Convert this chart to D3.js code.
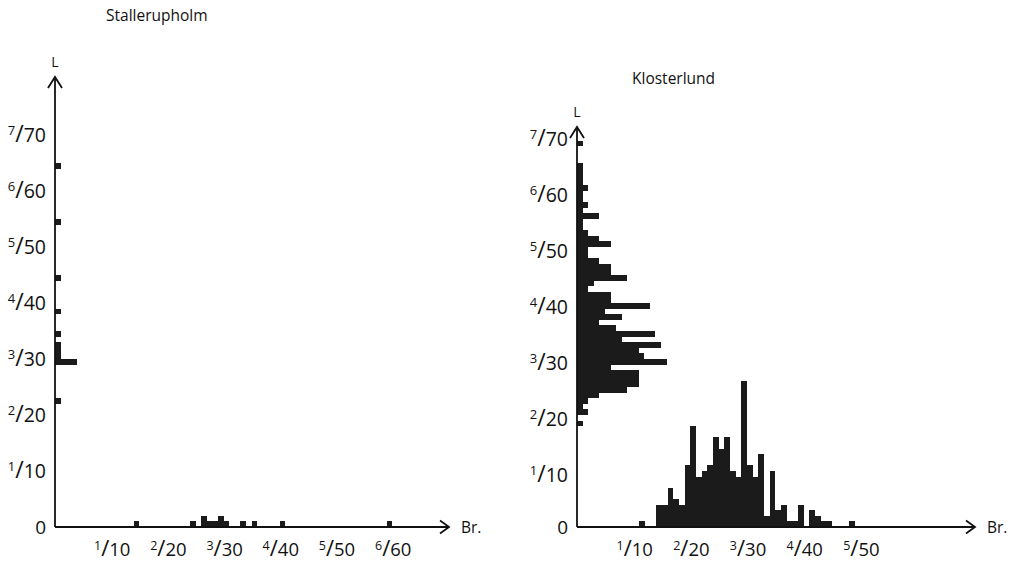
<!DOCTYPE html>
<html>
<head>
<meta charset="utf-8">
<script src="https://cdn.jsdelivr.net/npm/d3@7"></script>
<style>
  body { margin: 0; background: #fff; }
  text { font-family: "Open Sans", "Liberation Sans", sans-serif; fill: #111; }
</style>
</head>
<body>
<div class="chart"></div>
<script>
var svgWidth = 1015;
var svgHeight = 563;

// Stallerupholm: length (L, mm bins) and breadth (Br., mm bins) counts
var stallLenBins   = [22, 29, 30, 31, 32, 34, 38, 44, 54, 64];
var stallLenCounts = [ 1,  4,  1,  1,  1,  1,  1,  1,  1,  1];
var stallBrBins    = [14, 24, 26, 27, 28, 29, 30, 33, 35, 40, 59];
var stallBrCounts  = [ 1,  1,  2,  1,  1,  2,  1,  1,  1,  1,  1];

// Klosterlund
var klostLenBins   = [68, 64, 63, 62, 61, 60, 59, 58, 57, 56, 55, 54, 53, 52, 51, 50, 49, 48, 47, 46, 45, 44, 43, 42, 41, 40,
                      39, 38, 37, 36, 35, 34, 33, 32, 31, 30, 29, 28, 27, 26, 25, 24, 23, 22, 21, 20, 18];
var klostLenCounts = [ 1,  1,  1,  1,  1,  2,  1,  1,  2,  1,  4,  1,  1,  2,  4,  6,  2,  2,  4,  6,  6,  9,  3,  2,  6,  6,
                      13,  5,  8,  4,  7, 14,  8, 15, 11, 12, 16,  6, 11, 11, 11,  9,  4,  2,  1,  2,  1];
var klostBrBins    = [11, 14, 15, 16, 17, 18, 19, 20, 21, 22, 23, 24, 25, 26, 27, 28, 29, 30, 31, 32, 33, 34, 35, 36, 37, 38, 39, 41, 42, 43, 44, 48];
var klostBrCounts  = [ 1,  4,  4,  7,  5,  4, 11, 18,  9, 10, 11, 16, 14, 16, 10,  9, 26, 11,  9, 13,  2, 10,  3,  4,  1,  1,  4,  3,  2,  1,  1,  1];

// tick labels (cm / mm)
var lenTicksCm = [1, 2, 3, 4, 5, 6, 7];
var lenTicksMm = [10, 20, 30, 40, 50, 60, 70];
var stallBrTicksCm = [1, 2, 3, 4, 5, 6];
var stallBrTicksMm = [10, 20, 30, 40, 50, 60];
var klostBrTicksCm = [1, 2, 3, 4, 5];
var klostBrTicksMm = [10, 20, 30, 40, 50];

var svg = d3.select(".chart")
  .append("svg")
  .attr("width", svgWidth)
  .attr("height", svgHeight);

var baseY = 527;
var barColor = "#1b1b1b";
var countScale = d3.scaleLinear().domain([0, 1]).range([0, 5.6]);

function zip(a, b) {
  return a.map((d, i) => ({ bin: d, n: b[i] }));
}

// "7/70" style label: small raised cm digit, tall slash, mm number
function fracLabel(g, cm, mm, big) {
  var t = g.append("text");
  t.append("tspan").attr("font-size", big ? 13 : 12.5).attr("dy", big ? -7 : -6.5).text(cm);
  t.append("tspan").attr("font-size", big ? 23 : 22).attr("dy", big ? 7 : 6.5).text("/");
  t.append("tspan").attr("font-size", big ? 19.5 : 18.5).text(mm);
  return t;
}

function drawPanel(opt) {
  var g = svg.append("g");
  var x = opt.x, y = opt.y;
  var x0 = x(0);

  // L histogram (bars out from the vertical axis)
  g.selectAll("rect.len")
    .data(zip(opt.lenBins, opt.lenCounts))
    .enter()
    .append("rect")
    .attr("class", "len")
    .attr("x", x0)
    .attr("y", d => y(d.bin + 1))
    .attr("width", d => countScale(d.n))
    .attr("height", d => y(d.bin) - y(d.bin + 1))
    .attr("fill", barColor)
    .attr("shape-rendering", "crispEdges");

  // Br. histogram (bars up from the horizontal axis)
  g.selectAll("rect.br")
    .data(zip(opt.brBins, opt.brCounts))
    .enter()
    .append("rect")
    .attr("class", "br")
    .attr("x", d => x(d.bin))
    .attr("y", d => baseY - countScale(d.n))
    .attr("width", d => x(d.bin + 1) - x(d.bin))
    .attr("height", d => countScale(d.n))
    .attr("fill", barColor)
    .attr("shape-rendering", "crispEdges");

  // axes
  g.append("line").attr("x1", x0).attr("y1", baseY).attr("x2", x0).attr("y2", opt.top)
    .attr("stroke", "#111").attr("stroke-width", 1.8);
  g.append("line").attr("x1", x0).attr("y1", baseY).attr("x2", opt.right).attr("y2", baseY)
    .attr("stroke", "#111").attr("stroke-width", 1.8);

  // arrow heads
  g.append("path")
    .attr("d", `M${x0 - 7},${opt.top + 11}L${x0},${opt.top}L${x0 + 7},${opt.top + 11}`)
    .attr("fill", "none").attr("stroke", "#111").attr("stroke-width", 1.8);
  g.append("path")
    .attr("d", `M${opt.right - 9},${baseY - 6.5}L${opt.right},${baseY}L${opt.right - 9},${baseY + 6.5}`)
    .attr("fill", "none").attr("stroke", "#111").attr("stroke-width", 1.8);

  g.append("text").attr("x", x0).attr("y", opt.top - 10)
    .attr("text-anchor", "middle").attr("font-size", 14).text("L");
  g.append("text").attr("x", opt.right + 12).attr("y", baseY + 6)
    .attr("font-size", 15.5).text("Br.");

  // y tick labels
  lenTicksMm.forEach(function(mm, i) {
    fracLabel(g, lenTicksCm[i], mm, true)
      .attr("text-anchor", "end")
      .attr("transform", `translate(${x0 - 9}, ${y(mm) + opt.yLabelShift})`);
  });
  g.append("text").attr("x", x0 - 9).attr("y", baseY + 7)
    .attr("text-anchor", "end").attr("font-size", 19).text("0");

  // x tick labels
  opt.brTicksMm.forEach(function(mm, i) {
    fracLabel(g, opt.brTicksCm[i], mm, false)
      .attr("text-anchor", "middle")
      .attr("transform", `translate(${x(mm) + 1}, ${556})`);
  });

  g.append("text").attr("x", opt.titleX).attr("y", opt.titleY)
    .attr("font-size", 15.5).text(opt.title);
}

drawPanel({
  title: "Stallerupholm", titleX: 106, titleY: 21,
  x: d3.scaleLinear().domain([0, 70]).range([55, 55 + 70 * 5.62]),
  y: d3.scaleLinear().domain([0, 70]).range([baseY, baseY - 70 * 5.6]),
  top: 77, right: 449, yLabelShift: 7,
  lenBins: stallLenBins, lenCounts: stallLenCounts,
  brBins: stallBrBins, brCounts: stallBrCounts,
  brTicksCm: stallBrTicksCm, brTicksMm: stallBrTicksMm
});

drawPanel({
  title: "Klosterlund", titleX: 632, titleY: 84,
  x: d3.scaleLinear().domain([0, 70]).range([577, 577 + 70 * 5.667]),
  y: d3.scaleLinear().domain([0, 70]).range([baseY, baseY - 70 * 5.6]),
  top: 127, right: 975, yLabelShift: 10.5,
  lenBins: klostLenBins, lenCounts: klostLenCounts,
  brBins: klostBrBins, brCounts: klostBrCounts,
  brTicksCm: klostBrTicksCm, brTicksMm: klostBrTicksMm
});
</script>
</body>
</html>
